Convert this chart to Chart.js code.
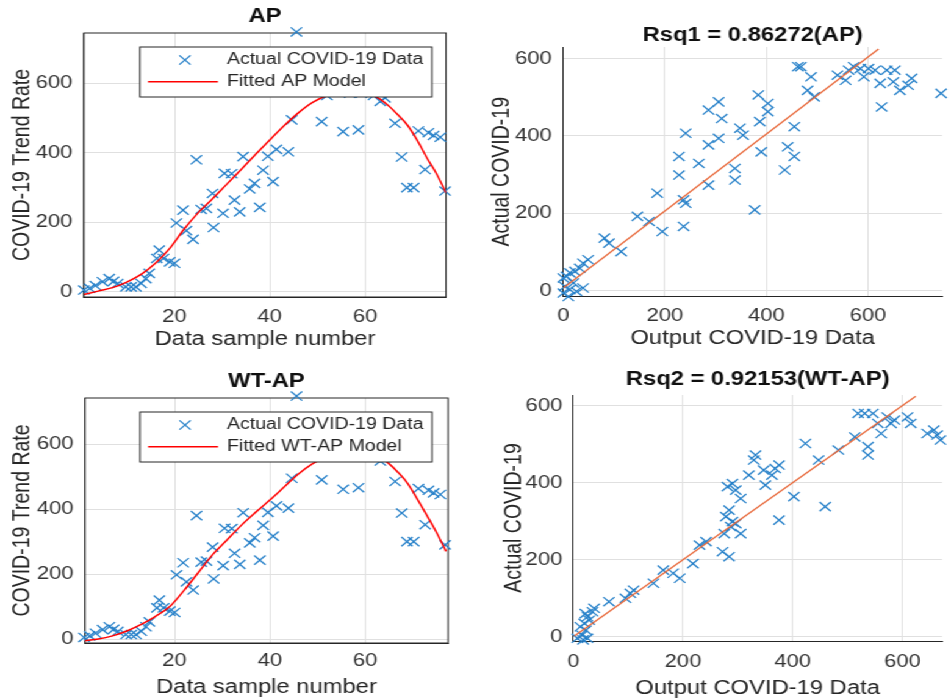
<!DOCTYPE html>
<html>
<head>
<meta charset="utf-8">
<title>COVID-19 trend fits</title>
<script src="https://cdn.jsdelivr.net/npm/chart.js@4.4.0/dist/chart.umd.min.js"></script>
<style>
  html, body { margin: 0; padding: 0; background: #fff; overflow: hidden; }
  body { width: 951px; height: 698px; position: relative; }
  /* the reference picture is stretched sideways, so the whole sheet is too */
  #sheet { position: absolute; left: 0; top: 0; width: 780px; height: 698px;
           transform: scaleX(1.22); transform-origin: 0 0; }
  .panel { position: absolute; height: 349px; }
</style>
</head>
<body>
<div id="sheet">
  <div class="panel" style="left:0;top:0;width:389px"><canvas id="apFit" width="389" height="349"></canvas></div>
  <div class="panel" style="left:389px;top:0;width:391px"><canvas id="apRsq" width="391" height="349"></canvas></div>
  <div class="panel" style="left:0;top:349px;width:389px"><canvas id="wtFit" width="389" height="349"></canvas></div>
  <div class="panel" style="left:389px;top:349px;width:391px"><canvas id="wtRsq" width="391" height="349"></canvas></div>
</div>
<script>
// ---- data ----
const sampleTicks = [20, 40, 60];
const rateTicks = [0, 200, 400, 600];
const outputTicks = [0, 200, 400, 600];

// actual trend rate per data sample (same in both left panels)
const sampleNo = [1, 2.2, 3.4, 4.9, 6.3, 7.2, 8.1, 9.8, 10.9, 11.9, 13, 14, 14.7, 16.3, 16.8, 17.7, 19, 20, 20.4, 21.8,
  22.5, 23.9, 24.6, 25.6, 26.7, 28, 28.2, 30.2, 30.5, 32, 32.6, 33.7, 34.4, 35.8, 36.8, 37.9, 38.6, 39.6, 40.7, 41.4,
  43.9, 44.6, 45.6, 50.9, 52, 55.4, 56.8, 58.6, 59.2, 61.8, 63.2, 64.2, 66.3, 67.7, 68.8, 70.2, 71.2, 72.6, 73.3, 74.4,
  75.8, 76.8];
const actualRate = [5, 10, 18, 29, 38, 30, 24, 14, 14, 14, 24, 38, 53, 96, 120, 96, 86, 82, 198, 235,
  176, 151, 380, 237, 240, 283, 185, 226, 341, 340, 264, 230, 389, 296, 312, 243, 350, 390, 317, 410,
  403, 495, 748, 490, 565, 461, 572, 466, 572, 565, 548, 558, 485, 388, 300, 300, 463, 352, 458, 450,
  445, 290];

// fitted models
const fitSampleNo = [1, 4, 7, 10, 13, 16, 19, 22, 25, 28, 31, 34, 37, 40, 43, 46, 49, 52, 55, 58, 61, 63, 65, 67, 69, 71, 73, 75, 77];
const apFit = [-8, 2, 12, 28, 50, 82, 125, 180, 228, 268, 310, 352, 395, 437, 478, 515, 545, 565, 576, 578, 570, 556, 535, 508, 478, 435, 385, 340, 285];
const wtapFit = [-5, 0, 10, 25, 45, 70, 100, 150, 205, 260, 305, 350, 390, 428, 468, 508, 540, 562, 575, 578, 572, 560, 540, 512, 478, 430, 380, 328, 270];

// output vs actual, AP
const apOutput = [0, 3, 10, 13, 20, 6.5, 13, 23, 32.5, 39, 49, 26, 39, 0,
  81, 90, 114, 146, 169, 185, 195, 228, 228, 241, 237, 237, 241, 267, 286, 286, 286, 306, 306, 312,
  338, 338, 348, 354, 377, 384, 390, 387, 403, 403, 436, 442, 455, 455, 462, 468, 488, 481, 494,
  540, 556, 562, 572, 585, 592, 601, 614, 624, 627, 637, 650, 653, 663, 679, 686, 744];
const apActual = [-6, 11, -15, 3, 20, 37, 46, 50, 58, 71, 80, -2, 7, 33,
  136, 123, 101, 192, 179, 252, 153, 347, 299, 407, 235, 166, 226, 329, 467, 377, 273, 488, 394, 445,
  316, 286, 420, 402, 209, 506, 359, 437, 484, 463, 312, 372, 347, 424, 579, 579, 553, 518, 501,
  557, 544, 570, 579, 574, 553, 574, 570, 536, 475, 570, 540, 570, 518, 531, 549, 510];
const apLineX = [0, 621];
const apLineY = [7, 625];

// output vs actual, WT-AP
const wtOutput = [7.5, 16, 23, 20, 26, 35, 38, 26, 13, 29, 18, 22,
  65, 95, 104, 110, 146, 164, 182, 194, 218, 230, 242, 272, 284, 275, 278, 284, 287, 290, 296, 305,
  281, 290, 296, 305, 320, 332, 329, 350, 347, 362, 375, 368, 375, 402, 423, 447, 459, 483, 513,
  537, 537, 519, 531, 546, 555, 561, 572, 579, 585, 609, 615, 645, 657, 669, 663];
const wtActual = [-4, 4, 17, 35, 52, 65, 74, -4, 26, 43, -8, 60,
  91, 100, 113, 121, 139, 173, 165, 152, 190, 238, 247, 221, 208, 268, 312, 329, 286, 299, 294, 268,
  390, 398, 381, 359, 420, 472, 459, 394, 433, 420, 446, 437, 303, 364, 502, 459, 338, 485, 519,
  494, 472, 580, 580, 580, 554, 528, 571, 554, 563, 571, 554, 528, 537, 511, 524];
const wtLineX = [2, 624];
const wtLineY = [2, 625];

// ---- look ----
const FONT = "'Liberation Sans', Arial, Helvetica, sans-serif";
const BLUE = "rgb(38,128,201)";
const RED = "rgb(255,0,0)";
const ORANGE = "rgb(232,104,58)";
const GRID = "rgb(224,224,224)";
const INK = "rgb(38,38,38)";

Chart.defaults.font.family = FONT;
Chart.defaults.color = INK;

const toPoints = (xs, ys) => xs.map((x, i) => ({ x: x, y: ys[i] }));

// full box round the axes (left panels)
const frame = {
  id: "frame",
  beforeDatasetsDraw(chart, args, opts) {
    if (!opts.on) return;
    const a = chart.chartArea, ctx = chart.ctx;
    ctx.save();
    ctx.strokeStyle = INK;
    ctx.lineWidth = 1;
    ctx.strokeRect(a.left, a.top, a.right - a.left, a.bottom - a.top);
    ctx.restore();
  }
};

// matlab style legend box, opaque, top of the axes
const legendBox = {
  id: "legendBox",
  afterDatasetsDraw(chart, args, opts) {
    if (!opts.lines) return;
    const ctx = chart.ctx, a = chart.chartArea;
    const x0 = a.left + opts.dx, y0 = a.top + 14, w = 239.3, h = 50;
    const row1 = y0 + 13, row2 = y0 + 34.7;
    ctx.save();
    ctx.fillStyle = "#fff";
    ctx.fillRect(x0, y0, w, h);
    ctx.strokeStyle = INK;
    ctx.lineWidth = 1;
    ctx.strokeRect(x0, y0, w, h);

    const r = 4.6, mx = x0 + 36.9;
    ctx.strokeStyle = BLUE;
    ctx.lineWidth = 1.3;
    ctx.beginPath();
    ctx.moveTo(mx - r, row1 - r); ctx.lineTo(mx + r, row1 + r);
    ctx.moveTo(mx - r, row1 + r); ctx.lineTo(mx + r, row1 - r);
    ctx.stroke();

    ctx.strokeStyle = RED;
    ctx.lineWidth = 1.5;
    ctx.beginPath();
    ctx.moveTo(x0 + 6.6, row2); ctx.lineTo(x0 + 63.9, row2);
    ctx.stroke();

    ctx.fillStyle = INK;
    ctx.font = "16px " + FONT;
    ctx.textBaseline = "middle";
    ctx.fillText(opts.lines[0], x0 + 71.3, row1);
    ctx.fillText(opts.lines[1], x0 + 71.3, row2);
    ctx.restore();
  }
};

Chart.register(frame, legendBox);

function axis(o) {
  return {
    type: "linear",
    min: o.min,
    max: o.max,
    afterBuildTicks: s => {
      s.ticks = o.ticks.filter(v => v >= o.min && v <= o.max).map(v => ({ value: v }));
    },
    afterFit: s => {
      if (o.width) s.width = o.width;
      if (o.height) s.height = o.height;
    },
    grid: { color: GRID, drawTicks: false, lineWidth: 1 },
    border: { color: INK, width: 1 },
    ticks: { padding: o.tickPad, color: "rgb(50,50,50)", autoSkip: false, maxRotation: 0, font: { size: 18 } },
    title: { display: true, text: o.label, color: INK, font: { size: 19.5, lineHeight: 1 }, padding: o.titlePad }
  };
}

function scatterSet(xs, ys) {
  return {
    data: toPoints(xs, ys),
    showLine: false,
    pointStyle: "crossRot",
    pointRadius: 6.5,
    pointHoverRadius: 6.5,
    borderColor: BLUE,
    backgroundColor: BLUE,
    borderWidth: 1.3,
    clip: false
  };
}

function lineSet(xs, ys, color, width, smooth) {
  return {
    data: toPoints(xs, ys),
    showLine: true,
    pointRadius: 0,
    borderColor: color,
    borderWidth: width,
    cubicInterpolationMode: smooth ? "monotone" : "default"
  };
}

function makePanel(id, p) {
  return new Chart(document.getElementById(id), {
    type: "scatter",
    data: { datasets: p.datasets },
    options: {
      responsive: false,
      animation: false,
      events: [],
      layout: { padding: { left: 0, right: p.padRight, top: 0, bottom: 0 } },
      plugins: {
        legend: { display: false },
        tooltip: { enabled: false },
        title: {
          display: true, text: p.title, fullSize: false, color: "rgb(15,15,15)",
          font: { size: 19.5, weight: "bold", lineHeight: 1 }, padding: p.titlePad
        },
        frame: { on: !!p.legend },
        legendBox: p.legend || {}
      },
      scales: { x: axis(p.x), y: axis(p.y) }
    }
  });
}

makePanel("apFit", {
  title: "AP",
  titlePad: { top: 7.25, bottom: 6.25 },
  padRight: 23.4,
  legend: { lines: ["Actual COVID-19 Data", "Fitted AP Model"], dx: 45.9 },
  datasets: [lineSet(fitSampleNo, apFit, RED, 1.5, true), scatterSet(sampleNo, actualRate)],
  x: { min: 1, max: 77, ticks: sampleTicks, label: "Data sample number", height: 52, tickPad: 9, titlePad: { top: 0, bottom: 0 } },
  y: { min: -15, max: 745, ticks: rateTicks, label: "COVID-19 Trend Rate", width: 68.8, tickPad: 9.5, titlePad: { top: 8.7, bottom: 0 } }
});

makePanel("apRsq", {
  title: "Rsq1 = 0.86272(AP)",
  titlePad: { top: 26.25, bottom: 1.25 },
  padRight: 4.6,
  datasets: [lineSet(apLineX, apLineY, ORANGE, 1.3, false), scatterSet(apOutput, apActual)],
  x: { min: 0, max: 746, ticks: outputTicks, label: "Output COVID-19 Data", height: 52.5, tickPad: 9, titlePad: { top: 0, bottom: 1 } },
  y: { min: -15, max: 630, ticks: rateTicks, label: "Actual COVID-19", width: 72.7, tickPad: 9.5, titlePad: { top: 13.2, bottom: 0 } }
});

makePanel("wtFit", {
  title: "WT-AP",
  titlePad: { top: 23.25, bottom: 6.25 },
  padRight: 21.8,
  legend: { lines: ["Actual COVID-19 Data", "Fitted WT-AP Model"], dx: 45.1 },
  datasets: [lineSet(fitSampleNo, wtapFit, RED, 1.5, true), scatterSet(sampleNo, actualRate)],
  x: { min: 1.2, max: 77.4, ticks: sampleTicks, label: "Data sample number", height: 55, tickPad: 7.4, titlePad: { top: 0, bottom: 0.3 } },
  y: { min: -12, max: 742, ticks: rateTicks, label: "COVID-19 Trend Rate", width: 69.7, tickPad: 9.5, titlePad: { top: 8.7, bottom: 0 } }
});

makePanel("wtRsq", {
  title: "Rsq2 = 0.92153(WT-AP)",
  titlePad: { top: 21.25, bottom: 5.25 },
  padRight: 5.4,
  datasets: [lineSet(wtLineX, wtLineY, ORANGE, 1.3, false), scatterSet(wtOutput, wtActual)],
  x: { min: 0, max: 672, ticks: outputTicks, label: "Output COVID-19 Data", height: 57, tickPad: 10, titlePad: { top: 0, bottom: 0 } },
  y: { min: -11, max: 628, ticks: rateTicks, label: "Actual COVID-19", width: 80.9, tickPad: 9, titlePad: { top: 22.5, bottom: 0 } }
});
</script>
</body>
</html>
